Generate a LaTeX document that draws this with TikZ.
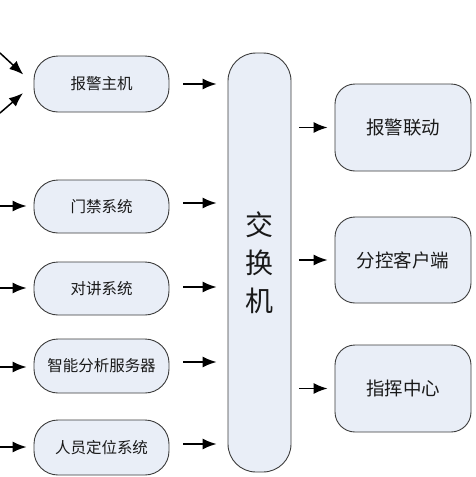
\documentclass[tikz,border=0pt]{standalone}
\usepackage{fontspec}
\newfontfamily\cjk{Noto Sans CJK SC}
\usetikzlibrary{arrows.meta}
\definecolor{boxfill}{RGB}{233,238,247}
\definecolor{boxline}{RGB}{60,60,60}
\definecolor{txt}{RGB}{25,25,25}
\begin{document}
\begin{tikzpicture}[x=1pt,y=-1pt,
  leftbox/.style={draw=boxline,line width=0.9pt,fill=boxfill,rounded corners=24pt,minimum width=135pt,text=txt,font=\cjk\fontsize{15.5}{18}\selectfont,inner sep=0pt},
  rightbox/.style={draw=boxline,line width=0.9pt,fill=boxfill,rounded corners=20pt,minimum width=136pt,minimum height=87pt,text=txt,font=\cjk\fontsize{18.5}{22}\selectfont,inner sep=0pt},
  swbox/.style={draw=boxline,line width=0.9pt,fill=boxfill,rounded corners=28pt,minimum width=63pt,minimum height=419pt,text=txt,font=\cjk\fontsize{28}{38}\selectfont,align=center,inner sep=0pt},
  arr/.style={-{Latex[length=14pt,width=11pt]},line width=1.5pt,black}]
\useasboundingbox (0,0) rectangle (476,477);
% left boxes
\node[leftbox,minimum height=56pt] (bj) at (101.5,84) {报警主机};
\node[leftbox,minimum height=53pt] (mj) at (101.5,206.5) {门禁系统};
\node[leftbox,minimum height=53pt] (dj) at (101.5,288.5) {对讲系统};
\node[leftbox,minimum height=54pt] (zn) at (101.5,366) {智能分析服务器};
\node[leftbox,minimum height=55pt] (ry) at (101.5,447.5) {人员定位系统};
% switch
\node[swbox] (sw) at (259.5,262.5) {交\\换\\机};
% right boxes
\node[rightbox] (ld) at (403,127.5) {报警联动};
\node[rightbox,minimum height=86pt] (fk) at (403,260) {分控客户端};
\node[rightbox] (zh) at (403,388.5) {指挥中心};
% incoming free ends
\coordinate (i1) at (0,53);
\coordinate (i2) at (0,113);
\coordinate (i3) at (-2,206);
\coordinate (i4) at (-2,288);
\coordinate (i5) at (-2,367);
\coordinate (i6) at (-2,447);
\draw[arr,shorten >=14pt] (i1) -- (bj.west);
\draw[arr,shorten >=14pt] (i2) -- (bj.west);
\draw[arr,shorten >=7pt] (i3) -- (i3 -| mj.west);
\draw[arr,shorten >=7pt] (i4) -- (i4 -| dj.west);
\draw[arr,shorten >=7pt] (i5) -- (i5 -| zn.west);
\draw[arr,shorten >=7pt] (i6) -- (i6 -| ry.west);
% to switch
\foreach \n/\yy in {bj/84,mj/203,dj/287,zn/362,ry/444}{
  \draw[arr,shorten <=14pt,shorten >=11pt] (\n.east |- 0,\yy) -- (sw.west |- 0,\yy);
}
% switch to right
\draw[arr,shorten <=8pt,shorten >=7pt] (sw.east |- ld.west) -- (ld.west);
\draw[arr,shorten <=8pt,shorten >=7pt] (sw.east |- fk.west) -- (fk.west);
\draw[arr,shorten <=8pt,shorten >=7pt] (sw.east |- zh.west) -- (zh.west);
\end{tikzpicture}
\end{document}
